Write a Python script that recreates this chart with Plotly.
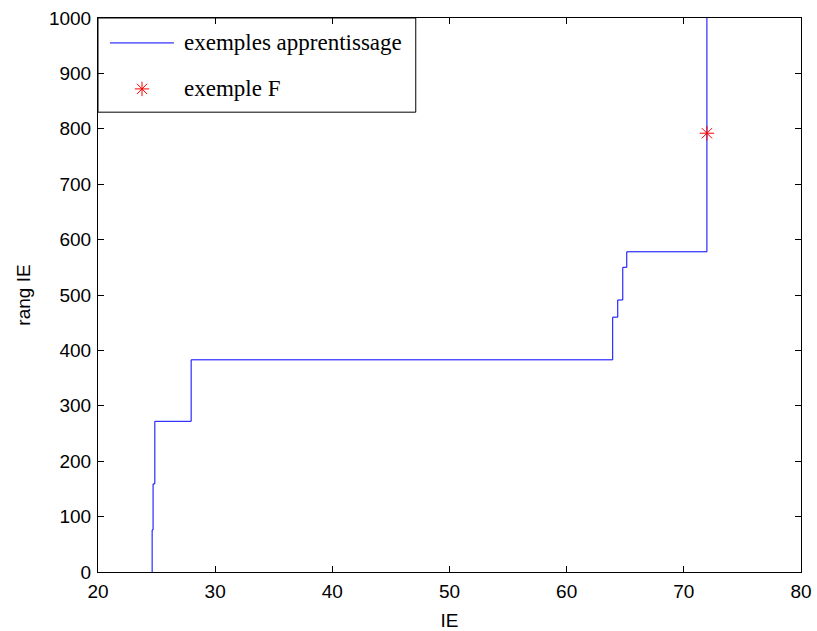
import plotly.graph_objects as go

# Staircase of training examples (IE value, cumulative rank) — drawn with 'vh' steps
ie_values = [24.62, 24.70, 24.85, 27.95, 63.93, 64.36, 64.79, 65.13, 71.97, 71.97]
rank_values = [0, 76, 159, 272, 383, 460, 491, 550, 578, 1010]

# Example F
f_ie = [71.97]
f_rank = [792]

x_ticks = [20, 30, 40, 50, 60, 70, 80]
y_ticks = [0, 100, 200, 300, 400, 500, 600, 700, 800, 900, 1000]

legend_labels = ["exemples apprentissage", "exemple F"]

star = dict(symbol="asterisk-open", size=12, color="#ff0000", line=dict(color="#ff0000", width=1))

fig = go.Figure()
fig.add_trace(go.Scatter(
    x=ie_values, y=rank_values, mode="lines", line=dict(color="#0000ff", width=1, shape="vh"),
    name=legend_labels[0], showlegend=False, cliponaxis=True))
fig.add_trace(go.Scatter(
    x=f_ie, y=f_rank, mode="markers", marker=star,
    name=legend_labels[1], showlegend=False))

# Legend sample marker (axes-fraction coordinates on an overlay axis)
fig.add_trace(go.Scatter(
    x=[0.0626], y=[0.872], mode="markers", xaxis="x2", yaxis="y2",
    marker=star, showlegend=False, hoverinfo="skip"))

axis_font = dict(family="Liberation Sans, Arial, sans-serif", size=19, color="black")
legend_font = dict(family="Liberation Serif, Times New Roman, serif", size=23, color="black")

fig.update_layout(
    width=817, height=631,
    margin=dict(l=98, r=16, t=18, b=59),
    paper_bgcolor="white", plot_bgcolor="white",
    xaxis=dict(range=[20, 80], tickvals=x_ticks, ticktext=[str(v) for v in x_ticks],
               ticks="inside", ticklen=6, tickcolor="black", tickwidth=1,
               showline=True, linecolor="black", linewidth=1, mirror="ticks",
               showgrid=False, zeroline=False, tickfont=axis_font, ticklabelstandoff=2,
               title=dict(text="IE", font=axis_font, standoff=12), automargin=False),
    yaxis=dict(range=[0, 1000], tickvals=y_ticks, ticktext=[str(v) for v in y_ticks],
               ticks="inside", ticklen=6, tickcolor="black", tickwidth=1,
               showline=True, linecolor="black", linewidth=1, mirror="ticks",
               showgrid=False, zeroline=False, tickfont=axis_font, ticklabelstandoff=2,
               title=dict(text="rang IE", font=axis_font, standoff=13), automargin=False),
    xaxis2=dict(range=[0, 1], overlaying="x", visible=False, fixedrange=True),
    yaxis2=dict(range=[0, 1], overlaying="y", visible=False, fixedrange=True),
    showlegend=False,
    shapes=[
        dict(type="rect", xref="paper", yref="paper", x0=0, x1=0.452, y0=0.830, y1=1.0,
             line=dict(color="black", width=1), fillcolor="white", layer="below"),
        dict(type="line", xref="paper", yref="paper", x0=0.017, x1=0.108, y0=0.955, y1=0.955,
             line=dict(color="#0000ff", width=1)),
    ],
    annotations=[
        dict(text=legend_labels[0], xref="paper", yref="paper", x=0.1195, y=0.955,
             xanchor="left", yanchor="middle", showarrow=False, font=legend_font),
        dict(text=legend_labels[1], xref="paper", yref="paper", x=0.1195, y=0.872,
             xanchor="left", yanchor="middle", showarrow=False, font=legend_font),
    ],
)

fig.write_html("out.html", config={"displayModeBar": False},
               post_script="document.body.style.margin='0px';")
